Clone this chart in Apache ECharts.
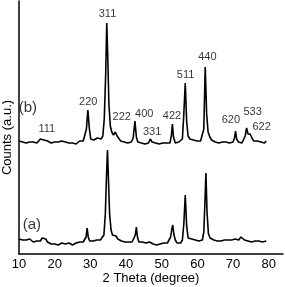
<!DOCTYPE html>
<html>
<head>
<meta charset="utf-8">
<script src="https://cdn.jsdelivr.net/npm/echarts@6/dist/echarts.min.js"></script>
<style>
html,body{margin:0;padding:0;background:#fff;}
#chart{width:285px;height:287px;}
</style>
</head>
<body>
<div id="chart"></div>
<script>
// Trace (b): 2-theta (degree) and counts (a.u., offset)
const bTheta = [10.0,10.5,11.0,11.5,12.0,12.5,13.0,13.5,14.0,14.5,15.0,15.5,16.0,16.5,17.0,17.5,18.0,18.5,19.0,19.5,20.0,20.5,21.0,21.5,22.0,22.5,23.0,23.5,24.0,24.5,25.0,25.5,26.0,26.5,27.0,27.5,28.0,28.5,28.9,29.3,29.7,30.1,30.5,31.0,31.5,32.0,32.5,33.0,33.5,33.9,34.3,34.6,34.9,35.2,35.6,36.0,36.5,37.0,37.5,38.0,38.5,39.0,39.5,40.0,40.5,41.0,41.5,42.0,42.5,42.9,43.3,43.8,44.3,44.8,45.3,45.8,46.3,46.8,47.3,47.8,48.3,48.8,49.3,49.8,50.3,50.8,51.3,51.8,52.3,52.7,53.0,53.3,53.8,54.3,54.8,55.3,55.8,56.2,56.6,57.0,57.4,57.9,58.4,58.9,59.4,59.9,60.4,60.9,61.4,61.8,62.2,62.6,63.0,63.5,64.0,64.5,65.0,65.5,66.0,66.5,67.0,67.5,68.0,68.5,69.0,69.5,70.0,70.4,70.7,71.0,71.5,72.0,72.5,73.0,73.4,73.8,74.2,74.8,75.3,75.8,76.3,76.8,77.3,77.8,78.3,78.8,79.3];
const bCounts = [113,114,112,113,111,113,112,114,112,113,111,112,115,117,114,116,113,112,111,113,112,110,112,111,113,111,112,110,111,113,111,112,110,112,113,111,113,115,125,144,126,115,113,114,112,116,114,115,118,135,180,231,195,150,128,122,119,122,118,116,113,114,112,113,111,113,112,116,133,117,112,113,111,112,110,112,111,115,112,113,111,112,110,112,111,113,111,112,111,118,130,117,111,110,112,111,115,140,171,132,118,115,113,114,112,113,111,113,114,125,187,140,122,117,114,115,112,113,111,113,112,110,112,113,111,113,112,116,123,115,112,113,111,113,118,126,120,120,116,113,112,113,111,112,113,111,113];

// Trace (a)
const aTheta = [10.0,10.5,11.0,11.5,12.0,12.5,13.0,13.5,14.0,14.5,15.0,15.5,16.0,16.5,17.0,17.5,18.0,18.5,19.0,19.5,20.0,20.5,21.0,21.5,22.0,22.5,23.0,23.5,24.0,24.5,25.0,25.5,26.0,26.5,27.0,27.5,28.0,28.5,28.8,29.1,29.4,29.8,30.3,30.8,31.3,31.8,32.3,32.8,33.3,33.8,34.2,34.5,34.8,35.1,35.4,35.8,36.2,36.7,37.2,37.7,38.2,38.7,39.2,39.7,40.2,40.7,41.2,41.7,42.2,42.6,42.9,43.2,43.6,44.1,44.6,45.1,45.6,46.1,46.6,47.1,47.6,48.1,48.6,49.1,49.6,50.1,50.6,51.1,51.6,52.1,52.5,52.8,53.1,53.4,53.8,54.3,54.8,55.3,55.8,56.2,56.6,57.0,57.4,57.9,58.4,58.9,59.4,59.9,60.4,60.9,61.4,61.8,62.1,62.4,62.7,63.1,63.6,64.1,64.6,65.1,65.6,66.1,66.6,67.1,67.6,68.1,68.6,69.1,69.6,70.1,70.6,71.1,71.6,72.2,72.7,73.2,73.7,74.2,74.7,75.2,75.7,76.2,76.7,77.2,77.7,78.2,78.7,79.3];
const aCounts = [15,13,14,12,14,13,15,13,12,14,13,11,13,16,14,15,12,11,10,12,10,11,9,10,11,9,10,9,11,10,9,10,11,10,12,11,12,13,17,26,17,13,14,13,15,14,15,14,16,19,40,75,104,72,40,24,19,17,18,15,14,13,14,12,13,12,13,12,14,19,27,17,12,11,12,10,11,10,12,11,10,11,9,11,10,12,11,12,11,13,17,24,29,20,14,11,12,11,14,30,59,28,16,14,15,13,14,12,13,12,14,22,50,81,42,20,16,15,14,15,13,14,13,15,14,13,14,12,14,13,15,13,14,17,15,14,16,13,14,12,14,13,15,13,14,12,14,13];

// Peak (hkl) annotations and their anchor points (theta, counts)
const hklLabels = ['111','220','311','222','400','331','422','511','440','620','533','622'];
const hklTheta  = [17.8,29.4,34.8,38.8,45.1,47.3,52.9,56.7,62.8,69.4,75.5,78.0];
const hklCounts = [125,152,240,137,140,122,138,179,197,134,142,127];

// Trace tags
const traceTags = ['(b)','(a)'];
const tagTheta  = [12.5,13.6];
const tagCounts = [146,29];

const xTicks = [10,20,30,40,50,60,70,80];

const FONT = '"Liberation Sans", Arial, sans-serif';

const chart = echarts.init(document.getElementById('chart'), null, {renderer:'canvas'});

const zip = (xs, ys) => xs.map((x,i)=>[x, ys[i]]);

chart.setOption({
  animation:false,
  backgroundColor:'#fff',
  grid:{left:19, right:2, top:1, bottom:33, containLabel:false, outerBoundsMode:'none'},
  xAxis:{
    type:'value', min:10, max:84, interval:10,
    name:'2 Theta (degree)', nameLocation:'middle', nameGap:24, nameMoveOverlap:false,
    nameTextStyle:{color:'#000', fontSize:13, fontFamily:FONT, verticalAlign:'middle'},
    axisLine:{show:true, onZero:false, lineStyle:{color:'#000', width:1.5}},
    axisTick:{show:false},
    splitLine:{show:false},
    axisLabel:{color:'#000', fontSize:13, fontFamily:FONT, margin:4, showMaxLabel:false,
      formatter:(v)=> xTicks.includes(v) ? String(v) : ''}
  },
  yAxis:{
    type:'value', min:0, max:253,
    name:'Counts (a.u.)', nameLocation:'middle', nameRotate:90, nameGap:12, nameMoveOverlap:false,
    nameTextStyle:{color:'#000', fontSize:13, fontFamily:FONT, verticalAlign:'middle', padding:[0,20,0,0]},
    axisLine:{show:true, onZero:false, lineStyle:{color:'#000', width:1.5}},
    axisTick:{show:false},
    axisLabel:{show:false},
    splitLine:{show:false}
  },
  series:[
    {type:'line', data:zip(bTheta,bCounts), showSymbol:false, symbol:'none',
     lineStyle:{color:'#000', width:1.6}, silent:true},
    {type:'line', data:zip(aTheta,aCounts), showSymbol:false, symbol:'none',
     lineStyle:{color:'#000', width:1.6}, silent:true},
    {type:'scatter', symbolSize:0, silent:true,
     data:hklLabels.map((n,i)=>({name:n, value:[hklTheta[i], hklCounts[i]]})),
     label:{show:true, position:'inside', formatter:'{b}', color:'#000', fontSize:11, fontFamily:FONT}},
    {type:'scatter', symbolSize:0, silent:true,
     data:traceTags.map((n,i)=>({name:n, value:[tagTheta[i], tagCounts[i]]})),
     label:{show:true, position:'inside', formatter:'{b}', color:'#000', fontSize:15, fontFamily:FONT}}
  ]
});
</script>
</body>
</html>
